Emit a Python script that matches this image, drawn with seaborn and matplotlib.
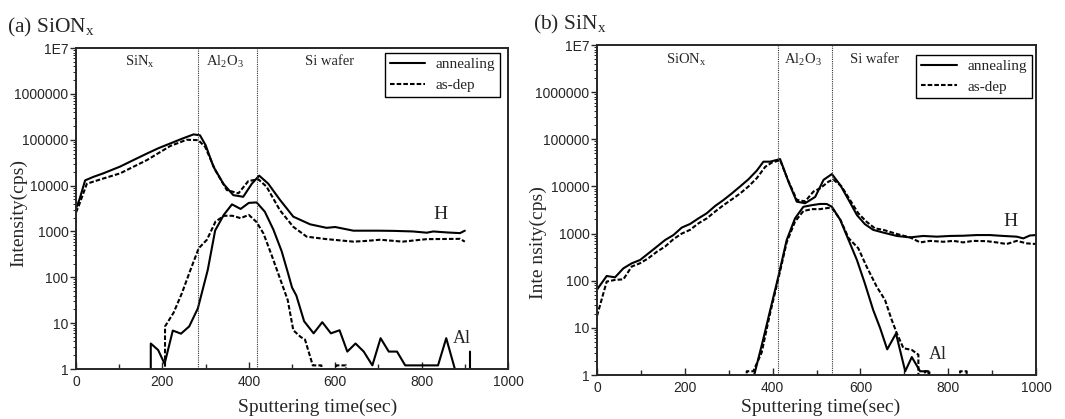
import numpy as np
import pandas as pd
import matplotlib
matplotlib.use('Agg')
import matplotlib.pyplot as plt
import matplotlib.ticker as mticker
import seaborn as sns

# ---- data ----
# (a) SiONx sample
a_H_ann_t = [0, 8, 21, 40, 63, 102, 130, 164, 190, 218, 245, 272, 287, 300, 318, 341, 364, 387, 407, 424,
             445, 472, 503, 542, 580, 600, 642, 700, 735, 780, 812, 827, 860, 889, 900]
a_H_ann_v = [3200, 5000, 13000, 15500, 18500, 26000, 35000, 50000, 65000, 83000, 105000, 131000, 125000, 76000,
             26000, 11000, 6200, 5700, 11000, 16500, 11000, 4900, 2100, 1430, 1200, 1250, 1040, 1040, 1030, 1000,
             940, 1000, 950, 920, 1040]
a_H_dep_t = [0, 8, 25, 60, 102, 130, 164, 218, 256, 283, 299, 322, 349, 376, 399, 422, 441, 472, 503, 534,
             580, 642, 670, 704, 756, 812, 889, 900]
a_H_dep_v = [2600, 4000, 11000, 14000, 18500, 25000, 36000, 73000, 100000, 98000, 70000, 22000, 8000, 6800,
             12600, 13700, 9500, 2900, 1260, 770, 680, 600, 620, 660, 600, 680, 690, 600]
a_Al_ann_t = [150, 173, 190, 205, 224, 243, 262, 282, 305, 322, 342, 361, 381, 400, 418, 437, 457, 476, 490,
              500, 510, 528, 550, 570, 590, 610, 628, 647, 666, 686, 705, 724, 743, 762, 838, 857, 877, 896, 912]
a_Al_ann_v = [0, 3.6, 2.6, 1.3, 6.9, 5.9, 8.5, 21, 146, 1050, 2300, 3900, 3100, 4200, 4300, 2700, 1090, 370,
              130, 60, 40, 11, 6, 10.5, 6, 7, 2.4, 3.6, 2.4, 1.2, 4.7, 2.4, 2.4, 1.2, 1.2, 4.7, 1, 0, 2.4]
a_Al_dep_t = [190, 206, 226, 245, 265, 284, 303, 323, 343, 362, 381, 400, 418, 434, 453, 472, 490, 503, 520,
              530, 548, 568, 586, 602, 625, 640]
a_Al_dep_v = [0, 8.5, 17, 45, 146, 430, 660, 1650, 2200, 2200, 1950, 2300, 1600, 900, 300, 95, 32, 7, 5,
              4.4, 1.2, 1.2, 0, 1.2, 1.2, 0]
a_layers = [282, 420]

# (b) SiNx sample
b_H_ann_t = [0, 22, 41, 60, 79, 98, 117, 136, 155, 174, 193, 212, 231, 250, 269, 288, 307, 326, 345, 364,
             379, 394, 417, 436, 455, 474, 497, 516, 535, 554, 573, 592, 610, 629, 652, 683, 713, 743, 774,
             804, 834, 865, 895, 926, 956, 971, 986, 1000]
b_H_ann_v = [65, 126, 118, 183, 234, 275, 380, 525, 730, 930, 1340, 1600, 2100, 2700, 3850, 5150, 7100, 10000,
             14200, 21700, 33500, 33500, 38000, 12600, 4750, 4400, 6000, 13800, 18300, 10700, 5200, 2470, 1590,
             1200, 1050, 890, 830, 890, 860, 890, 900, 930, 930, 890, 860, 790, 910, 930]
b_H_dep_t = [0, 22, 41, 60, 79, 98, 117, 136, 155, 174, 193, 212, 231, 250, 269, 288, 307, 326, 345, 364,
             383, 398, 417, 436, 455, 474, 493, 508, 527, 538, 557, 576, 595, 614, 633, 652, 683, 713, 736,
             759, 789, 812, 834, 857, 888, 910, 933, 956, 979, 1000]
b_H_dep_v = [18, 96, 104, 107, 200, 235, 300, 410, 530, 760, 1000, 1200, 1650, 2100, 2930, 4000, 5300, 7100,
             10000, 15000, 26000, 32000, 36000, 13000, 5200, 4800, 7800, 9100, 12600, 14000, 10000, 5200, 2700,
             1780, 1290, 1200, 980, 830, 650, 700, 670, 700, 650, 700, 690, 650, 600, 700, 620, 600]
b_Al_ann_t = [340, 358, 377, 395, 413, 432, 451, 470, 489, 508, 523, 535, 554, 573, 592, 610, 629, 645, 661,
              681, 702, 717, 736, 755, 770]
b_Al_ann_v = [0, 1, 5, 25, 122, 730, 2100, 3700, 4000, 4250, 4250, 3700, 1950, 730, 275, 88, 24, 9.8, 3.5,
              7.6, 1.2, 2.4, 1.2, 1.2, 0]
b_Al_dep_t = [325, 341, 356, 375, 394, 413, 432, 451, 470, 489, 508, 527, 536, 554, 573, 595, 614, 637, 656,
              671, 683, 698, 717, 732, 737, 747, 757, 770, 827, 842, 855]
b_Al_dep_v = [0, 1.2, 1.2, 3, 20, 110, 650, 1800, 3000, 3300, 3300, 3500, 3400, 2000, 800, 490, 200, 75, 39,
              15, 7.6, 3.7, 3.4, 2.7, 0, 1.2, 1.2, 0, 1.2, 1.2, 0]
b_layers = [413, 536]

ytick_vals = [1, 10, 100, 1000, 10000, 100000, 1000000, 10000000]
ytick_labels = ['1', '10', '100', '1000', '10000', '100000', '1000000', '1E7']

sns.set_style('ticks')
plt.rcParams['font.family'] = ['Liberation Serif', 'DejaVu Serif']
plt.rcParams['mathtext.fontset'] = 'custom'
plt.rcParams['mathtext.rm'] = 'Liberation Serif'

SANS = 'Liberation Sans'
DASH = (0, (2.2, 1.0))

fig = plt.figure(figsize=(10.65, 4.19), dpi=100)
ax_a = fig.add_axes([0.0714, 0.1193, 0.4056, 0.766])
ax_b = fig.add_axes([0.5606, 0.105, 0.4122, 0.7876])


def draw(ax, h_ann, h_dep, al_ann, al_dep, layers, leg_anchor, handle_len):
    sns.lineplot(x=h_ann[0], y=h_ann[1], ax=ax, color='black', lw=1.5, label='annealing')
    sns.lineplot(x=h_dep[0], y=h_dep[1], ax=ax, color='black', lw=1.5, ls=DASH, label='as-dep')
    sns.lineplot(x=al_ann[0], y=al_ann[1], ax=ax, color='black', lw=1.5)
    sns.lineplot(x=al_dep[0], y=al_dep[1], ax=ax, color='black', lw=1.5, ls=DASH)
    for b in layers:
        ax.axvline(b, color='#333333', lw=0.8, ls=(0, (1, 1)))
    ax.set_yscale('log', nonpositive='clip')
    ax.set_xlim(0, 1000)
    ax.set_ylim(1, 1e7)
    ax.set_yticks(ytick_vals)
    ax.set_yticklabels(ytick_labels, fontfamily=SANS)
    ax.yaxis.set_minor_locator(mticker.LogLocator(base=10, subs=np.arange(2, 10), numticks=20))
    ax.yaxis.set_minor_formatter(mticker.NullFormatter())
    ax.set_xticks(np.arange(0, 1001, 200))
    ax.set_xticklabels([str(v) for v in range(0, 1001, 200)], fontfamily=SANS)
    ax.xaxis.set_minor_locator(mticker.MultipleLocator(100))
    ax.tick_params(axis='x', which='major', direction='in', length=5, width=1, labelsize=10, pad=4)
    ax.tick_params(axis='x', which='minor', direction='in', length=3.5, width=1)
    ax.tick_params(axis='y', which='major', direction='out', length=4, width=1, labelsize=10, pad=1.5)
    ax.tick_params(axis='y', which='minor', direction='out', length=2, width=0.7)
    for s in ax.spines.values():
        s.set_visible(True)
        s.set_linewidth(1.4)
    ax.set_xlabel('Sputtering time(sec)', fontsize=14)
    leg = ax.legend(loc='upper right', bbox_to_anchor=leg_anchor, fontsize=11, frameon=True,
                    fancybox=False, edgecolor='black', framealpha=1, handlelength=handle_len,
                    borderpad=0.3, labelspacing=0.45, handletextpad=0.7, borderaxespad=0)
    leg.get_frame().set_linewidth(1.0)


draw(ax_a, (a_H_ann_t, a_H_ann_v), (a_H_dep_t, a_H_dep_v),
     (a_Al_ann_t, a_Al_ann_v), (a_Al_dep_t, a_Al_dep_v), a_layers, (0.981, 0.984), 2.3)
draw(ax_b, (b_H_ann_t, b_H_ann_v), (b_H_dep_t, b_H_dep_v),
     (b_Al_ann_t, b_Al_ann_v), (b_Al_dep_t, b_Al_dep_v), b_layers, (0.991, 0.97), 2.4)

ax_a.set_ylabel('Intensity(cps)', fontsize=14)
ax_b.set_ylabel('Inte nsity(cps)', fontsize=14)
ax_a.yaxis.set_label_coords(-0.112, 0.486)
ax_b.yaxis.set_label_coords(-0.114, 0.40)
ax_a.xaxis.set_label_coords(0.56, -0.093)
ax_b.xaxis.set_label_coords(0.51, -0.072)

# layer names
ta = ax_a.get_xaxis_transform()
ax_a.text(148, 0.957, r'SiN$_\mathregular{x}$', transform=ta, ha='center', va='center', fontsize=10.5)
ax_a.text(345, 0.957, r'Al$_\mathregular{2}$O$_\mathregular{3}$', transform=ta, ha='center', va='center', fontsize=10.5)
ax_a.text(586, 0.957, 'Si wafer', transform=ta, ha='center', va='center', fontsize=10.5)
tb = ax_b.get_xaxis_transform()
ax_b.text(204, 0.955, r'SiON$_\mathregular{x}$', transform=tb, ha='center', va='center', fontsize=10.5)
ax_b.text(470, 0.955, r'Al$_\mathregular{2}$O$_\mathregular{3}$', transform=tb, ha='center', va='center', fontsize=10.5)
ax_b.text(633, 0.955, 'Si wafer', transform=tb, ha='center', va='center', fontsize=10.5)

# element names
ax_a.text(843, 2300, 'H', ha='center', va='center', fontsize=14)
ax_a.text(893, 4.7, 'Al', ha='center', va='center', fontsize=13)
ax_b.text(941, 1780, 'H', ha='center', va='center', fontsize=14)
ax_b.text(777, 2.7, 'Al', ha='center', va='center', fontsize=13)

fig.text(0.007, 1 - 32 / 419, r'(a) SiON$_\mathregular{x}$', fontsize=15.5, va='baseline')
fig.text(0.5005, 1 - 29 / 419, r'(b) SiN$_\mathregular{x}$', fontsize=15.5, va='baseline')

fig.savefig('out.png', dpi=100)
